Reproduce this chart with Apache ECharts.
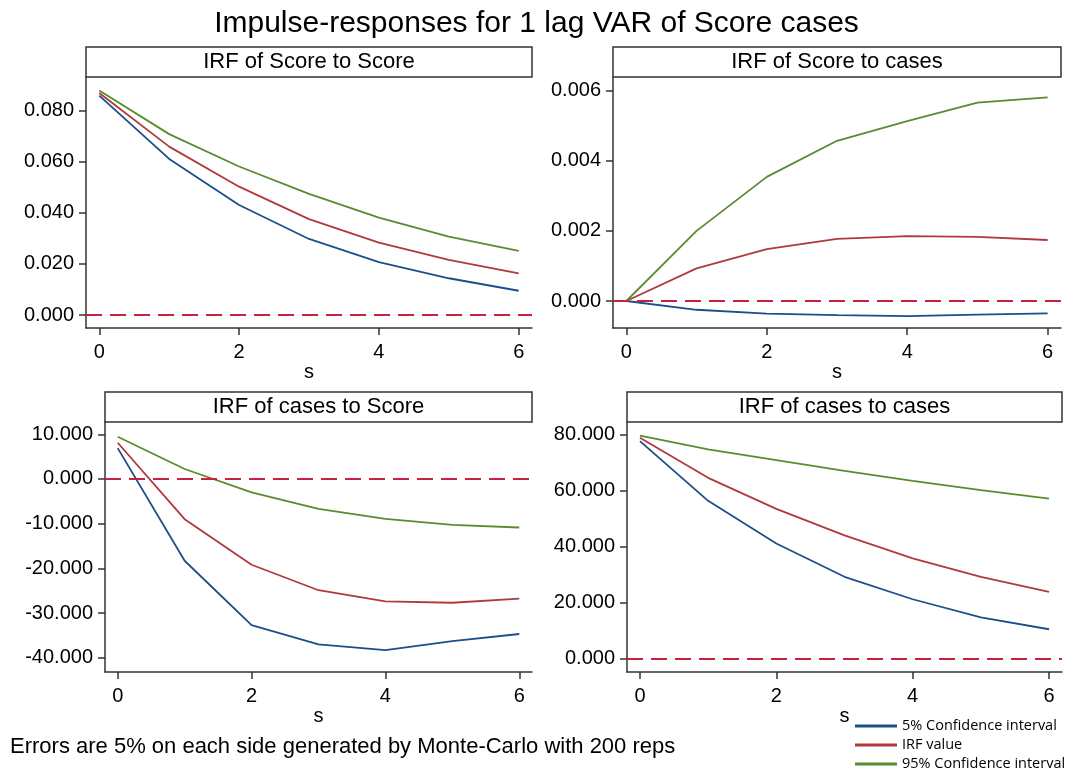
<!DOCTYPE html>
<html>
<head>
    <meta charset="utf-8">
    <title>Impulse-responses</title>
    <script src="https://cdn.jsdelivr.net/npm/echarts@6/dist/echarts.min.js"></script>
    <style>
        html, body {margin: 0; padding: 0; background: #fff;}
        #main {width: 1073px; height: 773px;}
    </style>
</head>
<body>
<div id="main"></div>
<script type="text/javascript">
    // horizon steps
    var steps = [0, 1, 2, 3, 4, 5, 6];
    var xTicks = [0, 2, 4, 6];

    // IRF of Score to Score
    var ssLo  = [0.0860, 0.0612, 0.0431, 0.0298, 0.0207, 0.0144, 0.0095];
    var ssIrf = [0.0870, 0.0660, 0.0503, 0.0376, 0.0284, 0.0216, 0.0163];
    var ssHi  = [0.0880, 0.0709, 0.0582, 0.0475, 0.0382, 0.0307, 0.0251];
    var ssTicks = [0, 0.02, 0.04, 0.06, 0.08];

    // IRF of Score to cases
    var scLo  = [0, -0.00025, -0.00036, -0.00040, -0.00043, -0.00039, -0.00035];
    var scIrf = [0, 0.00093, 0.00148, 0.00177, 0.00185, 0.00183, 0.00174];
    var scHi  = [0, 0.00200, 0.00354, 0.00457, 0.00513, 0.00566, 0.00581];
    var scTicks = [0, 0.002, 0.004, 0.006];

    // IRF of cases to Score
    var csLo  = [6.9, -18.3, -32.7, -37.0, -38.3, -36.3, -34.7];
    var csIrf = [8.1, -9.0, -19.2, -24.9, -27.4, -27.7, -26.8];
    var csHi  = [9.45, 2.23, -2.98, -6.7, -8.93, -10.27, -10.86];
    var csTicks = [-40, -30, -20, -10, 0, 10];

    // IRF of cases to cases
    var ccLo  = [77.6, 56.3, 41.1, 29.2, 21.2, 14.7, 10.5];
    var ccIrf = [78.8, 64.5, 53.4, 44.0, 35.8, 29.2, 23.8];
    var ccHi  = [79.5, 74.6, 70.8, 67.0, 63.4, 60.1, 57.1];
    var ccTicks = [0, 20, 40, 60, 80];

    var seriesNames = ['5% Confidence interval', 'IRF value', '95% Confidence interval'];
    var colors = ['#1d4e89', '#b0393b', '#5b8b2f'];
    var zeroColor = '#c8203f';
    var axisColor = '#333';

    var panels = [
        {title: 'IRF of Score to Score', data: [ssLo, ssIrf, ssHi], ticks: ssTicks, ymin: -0.0051, ymax: 0.0933,
         left: 86, top: 77, width: 446, height: 251},
        {title: 'IRF of Score to cases', data: [scLo, scIrf, scHi], ticks: scTicks, ymin: -0.00077, ymax: 0.00639,
         left: 613, top: 77, width: 448, height: 251},
        {title: 'IRF of cases to Score', data: [csLo, csIrf, csHi], ticks: csTicks, ymin: -43.2, ymax: 12.75,
         left: 105, top: 422, width: 427, height: 250},
        {title: 'IRF of cases to cases', data: [ccLo, ccIrf, ccHi], ticks: ccTicks, ymin: -4.74, ymax: 84.4,
         left: 627, top: 422, width: 435, height: 250}
    ];

    function pairs(ys) {
        var out = [];
        for (var i = 0; i < steps.length; i++) {
            out.push([steps[i], ys[i]]);
        }
        return out;
    }

    var grids = [], xAxes = [], yAxes = [], series = [], graphics = [];

    for (var p = 0; p < panels.length; p++) {
        var pn = panels[p];
        grids.push({left: pn.left, top: pn.top, width: pn.width, height: pn.height});
        xAxes.push({
            type: 'value', gridIndex: p, min: -0.19, max: 6.19,
            name: 's', nameLocation: 'middle', nameGap: 33,
            nameTextStyle: {fontSize: 20, color: '#000', fontFamily: 'Liberation Sans'},
            axisLine: {onZero: false, lineStyle: {color: axisColor, width: 1.5}},
            axisTick: {show: true, length: 7, customValues: xTicks, lineStyle: {color: axisColor, width: 1.5}},
            axisLabel: {customValues: xTicks, margin: 14, fontSize: 20, color: '#000', fontFamily: 'Liberation Sans'},
            splitLine: {show: false}
        });
        yAxes.push({
            type: 'value', gridIndex: p, min: pn.ymin, max: pn.ymax,
            axisLine: {show: true, onZero: false, lineStyle: {color: axisColor, width: 1.5}},
            axisTick: {show: true, length: 7, customValues: pn.ticks, lineStyle: {color: axisColor, width: 1.5}},
            axisLabel: {
                customValues: pn.ticks, margin: 12, fontSize: 20, color: '#000', fontFamily: 'Liberation Sans',
                formatter: function (v) { return v.toFixed(3); }
            },
            splitLine: {show: false}
        });
        for (var k = 0; k < 3; k++) {
            var s = {
                name: seriesNames[k],
                type: 'line',
                xAxisIndex: p,
                yAxisIndex: p,
                data: pairs(pn.data[k]),
                showSymbol: false,
                symbol: 'none',
                silent: true,
                lineStyle: {color: colors[k], width: 1.8},
                itemStyle: {color: colors[k]}
            };
            if (k === 0) {
                s.markLine = {
                    silent: true,
                    symbol: 'none',
                    label: {show: false},
                    lineStyle: {color: zeroColor, type: [16, 8], width: 2},
                    data: [{yAxis: 0}]
                };
            }
            series.push(s);
        }
        // header strip over each panel
        graphics.push({
            type: 'rect',
            shape: {x: pn.left, y: pn.top - 30, width: pn.width, height: 30},
            style: {fill: '#fff', stroke: axisColor, lineWidth: 1.5}
        });
        graphics.push({
            type: 'text',
            x: pn.left + pn.width / 2,
            y: pn.top - 15,
            style: {
                text: pn.title, fill: '#000', font: '22px "Liberation Sans"',
                textAlign: 'center', textVerticalAlign: 'middle'
            }
        });
    }

    graphics.push({
        type: 'text', x: 10, y: 747,
        style: {
            text: 'Errors are 5% on each side generated by Monte-Carlo with 200 reps',
            fill: '#000', font: '22px "Liberation Sans"', textVerticalAlign: 'middle'
        }
    });

    var myChart = echarts.init(document.getElementById('main'));
    var option = {
        animation: false,
        backgroundColor: '#fff',
        title: {
            text: 'Impulse-responses for 1 lag VAR of Score cases',
            left: 'center', top: 4,
            textStyle: {fontSize: 30, fontWeight: 'normal', color: '#000', fontFamily: 'Liberation Sans'}
        },
        legend: {
            data: seriesNames,
            orient: 'vertical',
            left: 855, top: 718,
            width: 215, height: 56,
            padding: 0,
            itemWidth: 42, itemHeight: 3, itemGap: 3,
            icon: 'rect',
            textStyle: {fontSize: 14.5, lineHeight: 16, color: '#000', fontFamily: 'Open Sans'}
        },
        grid: grids,
        xAxis: xAxes,
        yAxis: yAxes,
        series: series,
        graphic: graphics
    };
    myChart.setOption(option);
</script>
</body>
</html>
